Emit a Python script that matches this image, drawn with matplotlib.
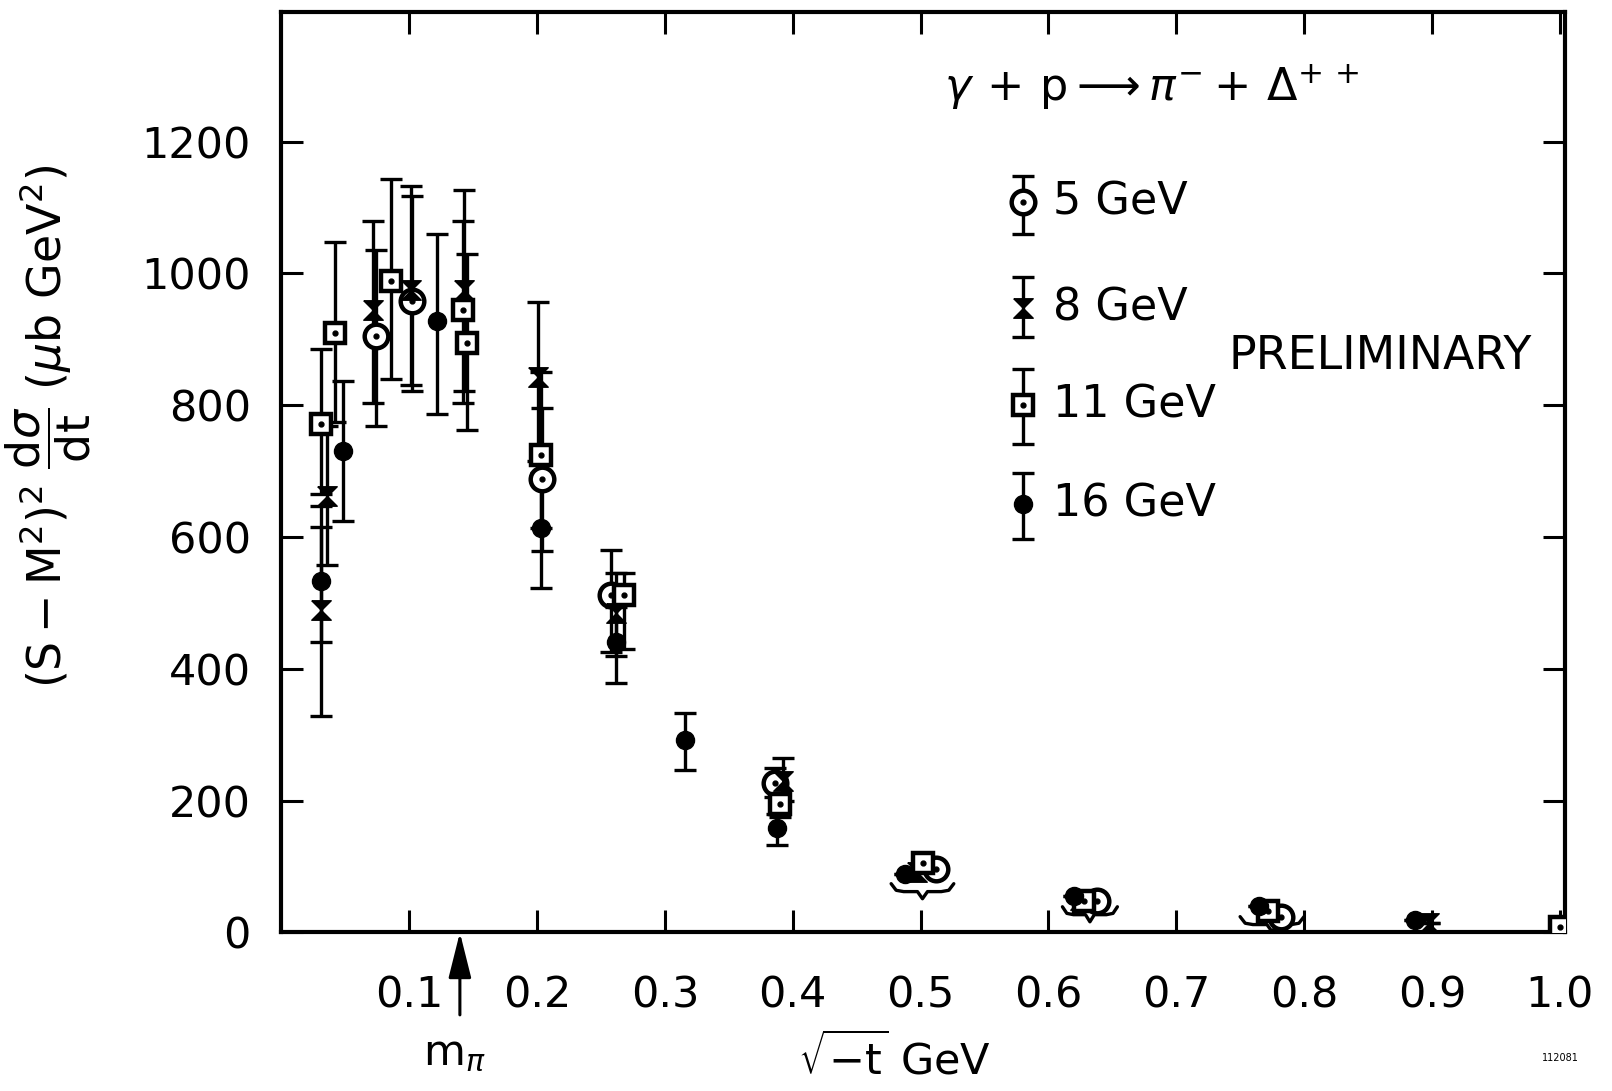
import matplotlib
matplotlib.use("Agg")
import matplotlib.pyplot as plt
import numpy as np

# --- data: sqrt(-t) [GeV], (s-M^2)^2 dsigma/dt [mub GeV^2]
# lo / hi are the ends of the error bars
x_5 = [0.074, 0.102, 0.204, 0.258, 0.386, 0.512, 0.638, 0.782]
y_5 = [905, 958, 688, 512, 227, 97, 47, 24]
lo_5 = [769, 821, 578, 426, 205, 97, 47, 24]
hi_5 = [1035, 1117, 795, 580, 250, 97, 47, 24]

x_8 = [0.031, 0.036, 0.072, 0.101, 0.143, 0.201, 0.262, 0.392, 0.497, 0.625, 0.898]
y_8 = [490, 662, 945, 975, 975, 843, 485, 230, 92, 50, 14]
lo_8 = [328, 558, 804, 831, 822, 715, 420, 200, 92, 50, 14]
hi_8 = [615, 768, 1080, 1132, 1127, 957, 545, 264, 92, 50, 14]

x_11 = [0.031, 0.042, 0.086, 0.142, 0.145, 0.203, 0.268, 0.390, 0.502, 0.628, 0.772, 1.0]
y_11 = [772, 910, 988, 944, 895, 724, 512, 195, 105, 48, 32, 8]
lo_11 = [665, 775, 839, 804, 763, 614, 430, 175, 105, 48, 32, 8]
hi_11 = [885, 1048, 1143, 1080, 1030, 850, 545, 215, 105, 48, 32, 8]

x_16 = [0.031, 0.048, 0.122, 0.203, 0.262, 0.316, 0.388, 0.488, 0.620, 0.765, 0.887]
y_16 = [533, 730, 927, 613, 440, 292, 158, 88, 55, 40, 19]
lo_16 = [441, 624, 786, 522, 378, 247, 133, 88, 55, 40, 19]
hi_16 = [647, 836, 1059, 697, 494, 333, 180, 88, 55, 40, 19]

# legend samples: y of marker, bar bottom, bar top
leg_labels = ["5 GeV", "8 GeV", "11 GeV", "16 GeV"]
leg_y = [1108, 947, 800, 650]
leg_lo = [1060, 903, 741, 597]
leg_hi = [1147, 994, 855, 697]

# braces under the small-t clusters: (x0, x1, y)
braces = [(0.477, 0.526, 62), (0.611, 0.654, 27), (0.750, 0.800, 12)]

m_pi = 0.1396
x_ticks = [0.1, 0.2, 0.3, 0.4, 0.5, 0.6, 0.7, 0.8, 0.9, 1.0]
x_ticklabels = ["0.1", "0.2", "0.3", "0.4", "0.5", "0.6", "0.7", "0.8", "0.9", "1.0"]
y_ticks = [0, 200, 400, 600, 800, 1000, 1200]

plt.rcParams["font.family"] = ["DejaVu Sans"]
plt.rcParams["mathtext.fontset"] = "dejavusans"

fig = plt.figure(figsize=(16.12, 10.91), dpi=100)
ax = fig.add_axes([0.1746, 0.1453, 0.7961, 0.8434])

LW = 2.4
EB = dict(fmt="none", ecolor="k", elinewidth=LW, capsize=8, capthick=LW, zorder=2)

marker_open = dict(ls="none", mfc="white", mec="k", mew=3.2, zorder=4)
dot = dict(ls="none", marker="o", ms=3.5, color="k", zorder=5)
hourglass = [(-1, 1), (1, 1), (-1, -1), (1, -1), (-1, 1)]


def draw_series(xs, ys, lo, hi, kind):
    xs = np.asarray(xs)
    ys = np.asarray(ys, float)
    err = [ys - np.asarray(lo), np.asarray(hi) - ys]
    ax.errorbar(xs, ys, yerr=err, **EB)
    if kind == "circle":
        ax.plot(xs, ys, marker="o", ms=17, **marker_open)
        ax.plot(xs, ys, **dot)
    elif kind == "square":
        ax.plot(xs, ys, marker="s", ms=15, **marker_open)
        ax.plot(xs, ys, **dot)
    elif kind == "x":
        ax.plot(xs, ys, ls="none", marker=hourglass, ms=14, color="k", zorder=4)
    else:
        ax.plot(xs, ys, ls="none", marker="o", ms=13, color="k", zorder=4)


kinds = ["circle", "x", "square", "filled"]
draw_series(x_5, y_5, lo_5, hi_5, "circle")
draw_series(x_8, y_8, lo_8, hi_8, "x")
draw_series(x_11, y_11, lo_11, hi_11, "square")
draw_series(x_16, y_16, lo_16, hi_16, "filled")

# hand-made legend like the original
leg_x = 0.580
for lab, yy, l, h, k in zip(leg_labels, leg_y, leg_lo, leg_hi, kinds):
    draw_series([leg_x], [yy], [l], [h], k)
    ax.text(leg_x + 0.024, yy, lab, fontsize=32, va="center", ha="left")

ax.text(0.518, 1282, r"$\gamma\,+\,\mathrm{p}\longrightarrow\pi^{-}+\,\Delta^{+\,+}$",
        fontsize=32, va="center", ha="left")
ax.text(0.741, 874, "PRELIMINARY", fontsize=33, va="center", ha="left")

# curly braces
for x0, x1, yb in braces:
    w = x1 - x0
    xm = 0.5 * (x0 + x1)
    d = 12
    bx = [x0, x0 + 0.08 * w, x0 + 0.2 * w, xm - 0.08 * w, xm, xm + 0.08 * w,
          x1 - 0.2 * w, x1 - 0.08 * w, x1]
    by = [yb + d, yb + 2, yb, yb, yb - 0.9 * d, yb, yb, yb + 2, yb + d]
    ax.plot(bx, by, color="k", lw=LW, solid_capstyle="round",
            solid_joinstyle="round", zorder=3)

# m_pi marker below the axis
ax.annotate("", xy=(m_pi, 0), xytext=(m_pi, -125),
            arrowprops=dict(arrowstyle="-|>,head_length=1.4,head_width=0.35",
                            color="k", lw=2.2, mutation_scale=20,
                            shrinkA=0, shrinkB=0),
            annotation_clip=False)
ax.text(m_pi - 0.004, -183, r"m$_{\pi}$", fontsize=31, ha="center", va="center",
        clip_on=False)

ax.set_xlim(0, 1.004)
ax.set_ylim(0, 1396)
ax.set_xticks(x_ticks)
ax.set_xticklabels(x_ticklabels)
ax.set_yticks(y_ticks)
ax.tick_params(axis="both", direction="in", length=16, width=2.2,
               top=True, right=True, labelsize=31)
ax.tick_params(axis="x", pad=30)
ax.tick_params(axis="y", pad=22)
for sp in ax.spines.values():
    sp.set_linewidth(3)

fig.text(0.030, 0.609,
         r"$(\mathrm{S}-\mathrm{M}^{2})^{2}\ \dfrac{\mathrm{d}\sigma}{\mathrm{dt}}\ (\mu\mathrm{b\ GeV}^{2})$",
         rotation=90, fontsize=33, ha="center", va="center")
fig.text(0.555, 0.030, r"$\sqrt{-\mathrm{t}}$ GeV", fontsize=31, ha="center", va="center")
fig.text(0.968, 0.030, "112081", fontsize=7, ha="center", va="center")

fig.savefig("out.png", dpi=100)
